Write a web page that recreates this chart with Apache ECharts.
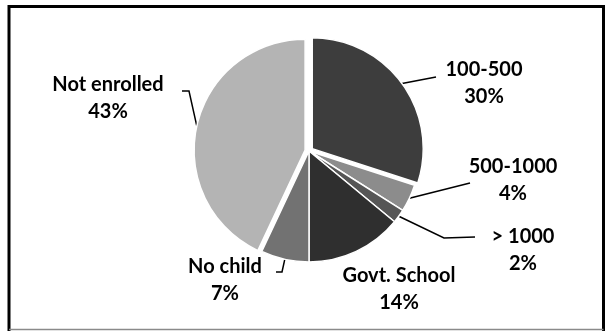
<!DOCTYPE html>
<html>
<head>
<meta charset="utf-8">
<script src="https://cdn.jsdelivr.net/npm/echarts@6/dist/echarts.min.js"></script>
<style>
  html, body { margin: 0; padding: 0; background: #fff; }
  #chart { width: 611px; height: 331px; }
</style>
</head>
<body>
<div id="chart"></div>
<script>
const categories = ['100-500', '500-1000', '> 1000', 'Govt. School', 'No child', 'Not enrolled'];
const shares = [30, 4, 2, 14, 7, 43];
const sliceColors = ['#3d3d3d', '#8c8c8c', '#565656', '#2f2f2f', '#727272', '#b4b4b4'];
// how far each slice is pulled out of the pie, px
const explode = [4, 0, 0, 0, 0, 4];

// where each label sits, and the bend points of its leader line
const labelSpots = [[484, 83], [513, 180], [523, 250], [399, 289], [225, 280], [108, 98]];
const leaderBends = [
  [[436, 77]],
  [[470, 183]],
  [[444, 238], [475, 237]],
  null,
  [[282, 272], [276, 272]],
  [[189, 91], [182, 91]]
];

const pieCenter = [309, 151];
const total = shares.reduce((a, b) => a + b, 0);

// one pie layer per group of slices; slices outside the layer are invisible
const buildSeries = (members, center) => ({
  type: 'pie',
  center: center,
  radius: [0, 111],
  startAngle: 90,
  clockwise: true,
  silent: true,
  itemStyle: { borderColor: '#fff', borderWidth: 1.5 },
  label: {
    show: true,
    position: 'outside',
    fontFamily: 'Lato',
    fontWeight: 'bold',
    fontSize: 20,
    lineHeight: 27,
    color: '#000',
    formatter: p => p.name + '\n' + p.value + '%'
  },
  labelLine: { show: true, lineStyle: { color: '#000', width: 1.5 } },
  labelLayout: p => {
    const i = p.dataIndex;
    if (!members.includes(i)) return {};
    const out = {
      x: labelSpots[i][0],
      y: labelSpots[i][1],
      align: 'center',
      verticalAlign: 'middle'
    };
    if (leaderBends[i] && p.labelLinePoints) {
      out.labelLinePoints = [p.labelLinePoints[0]].concat(leaderBends[i]);
    }
    return out;
  },
  data: categories.map((c, i) => {
    const on = members.includes(i);
    return {
      name: c,
      value: shares[i],
      itemStyle: on ? { color: sliceColors[i] } : { color: 'rgba(0,0,0,0)', borderWidth: 0 },
      label: { show: on },
      labelLine: { show: on && leaderBends[i] !== null }
    };
  })
});

const series = [];

// slices that stay in place
const still = categories.map((c, i) => i).filter(i => explode[i] === 0);
series.push(buildSeries(still, pieCenter));

// pulled-out slices, each shifted along its own bisector
categories.forEach((c, i) => {
  if (explode[i] === 0) return;
  const before = shares.slice(0, i).reduce((a, b) => a + b, 0);
  const mid = (before + shares[i] / 2) / total * Math.PI * 2;
  const center = [
    pieCenter[0] + explode[i] * Math.sin(mid),
    pieCenter[1] - explode[i] * Math.cos(mid)
  ];
  series.push(buildSeries([i], center));
});

const myChart = echarts.init(document.getElementById('chart'));

const option = {
  animation: false,
  graphic: [
    {
      type: 'polyline',
      shape: { points: [[9, 331], [9, 6.5], [603.5, 6.5], [603.5, 331]] },
      style: { stroke: '#000', lineWidth: 3, fill: null }
    },
    {
      type: 'line',
      shape: { x1: 9, y1: 329.5, x2: 603.5, y2: 329.5 },
      style: { stroke: '#8a8a8a', lineWidth: 1.5 }
    }
  ],
  series: series
};

myChart.setOption(option);
</script>
</body>
</html>
